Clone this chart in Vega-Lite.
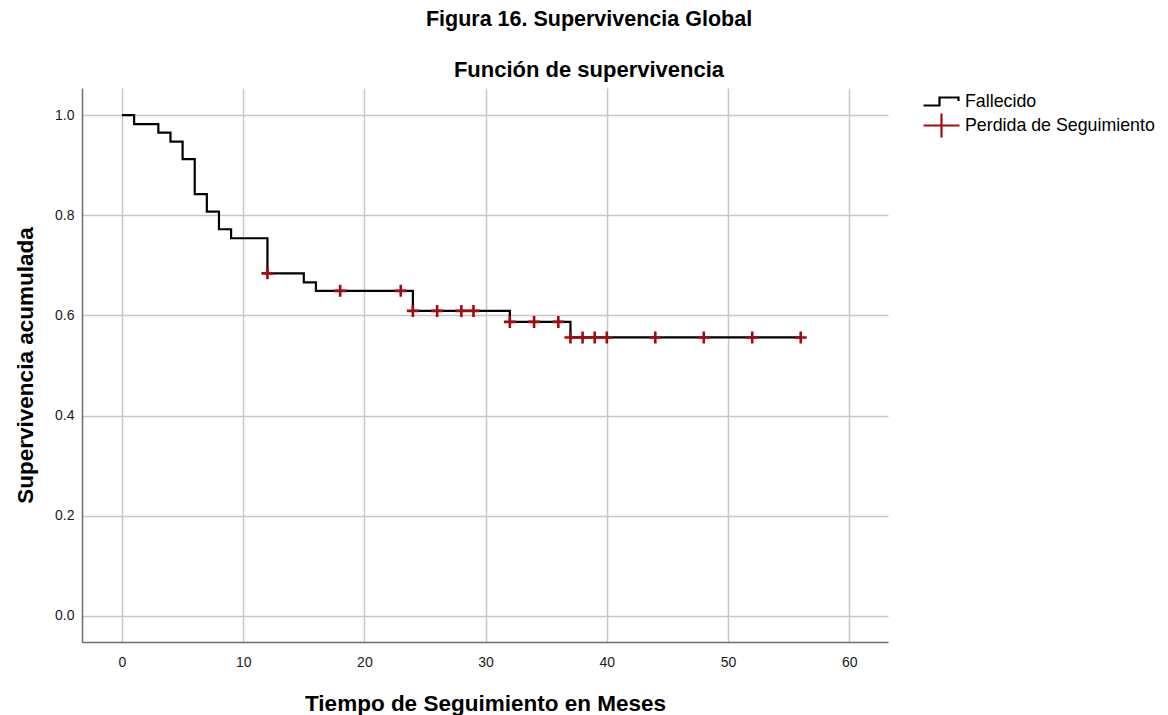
{
  "$schema": "https://vega.github.io/schema/vega-lite/v6.json",
  "width": 806,
  "height": 554,
  "autosize": {"type": "none"},
  "padding": {"left": 82, "top": 88, "right": 280, "bottom": 73},
  "background": "white",
  "config": {
    "font": "Liberation Sans",
    "view": {"stroke": null},
    "axis": {
      "grid": true,
      "gridColor": "#c8c8c8",
      "gridWidth": 1.5,
      "domainColor": "#6e6e6e",
      "domainWidth": 1.5,
      "ticks": false,
      "labelFont": "Liberation Sans",
      "labelFontSize": 14,
      "labelColor": "#1a1a1a",
      "titleFont": "Liberation Sans",
      "titleFontSize": 22.5,
      "titleFontWeight": "bold",
      "titleColor": "#000000"
    }
  },
  "title": {
    "text": "Figura 16. Supervivencia Global",
    "subtitle": "Función de supervivencia",
    "anchor": "middle",
    "dx": 104,
    "offset": 7,
    "fontSize": 21.5,
    "fontWeight": "bold",
    "color": "#000000",
    "subtitleFontSize": 22,
    "subtitleFontWeight": "bold",
    "subtitleColor": "#000000",
    "subtitlePadding": 30
  },
  "datasets": {
    "curva": [
      {"t": 0, "s": 1.0},
      {"t": 1, "s": 0.982},
      {"t": 3, "s": 0.965},
      {"t": 4, "s": 0.947},
      {"t": 5, "s": 0.912},
      {"t": 6, "s": 0.842},
      {"t": 7, "s": 0.807},
      {"t": 8, "s": 0.772},
      {"t": 9, "s": 0.754},
      {"t": 12, "s": 0.684},
      {"t": 15, "s": 0.666},
      {"t": 16, "s": 0.649},
      {"t": 24, "s": 0.609},
      {"t": 32, "s": 0.587},
      {"t": 37, "s": 0.556},
      {"t": 56, "s": 0.556}
    ],
    "censura": [
      {"t": 12, "s": 0.684},
      {"t": 18, "s": 0.649},
      {"t": 23, "s": 0.649},
      {"t": 24, "s": 0.609},
      {"t": 26, "s": 0.609},
      {"t": 28, "s": 0.609},
      {"t": 29, "s": 0.609},
      {"t": 32, "s": 0.587},
      {"t": 34, "s": 0.587},
      {"t": 36, "s": 0.587},
      {"t": 37, "s": 0.556},
      {"t": 38, "s": 0.556},
      {"t": 39, "s": 0.556},
      {"t": 40, "s": 0.556},
      {"t": 44, "s": 0.556},
      {"t": 48, "s": 0.556},
      {"t": 52, "s": 0.556},
      {"t": 56, "s": 0.556}
    ]
  },
  "encoding": {
    "x": {
      "field": "t",
      "type": "quantitative",
      "title": "Tiempo de Seguimiento en Meses",
      "scale": {"domain": [-3.3, 63.2], "nice": false, "zero": false},
      "axis": {"values": [0, 10, 20, 30, 40, 50, 60], "labelPadding": 13, "titlePadding": 23}
    },
    "y": {
      "field": "s",
      "type": "quantitative",
      "title": "Supervivencia acumulada",
      "scale": {"domain": [-0.052, 1.054], "nice": false, "zero": false},
      "axis": {"values": [0, 0.2, 0.4, 0.6, 0.8, 1.0], "format": ".1f", "labelPadding": 8, "titlePadding": 17}
    }
  },
  "layer": [
    {
      "data": {"name": "curva"},
      "mark": {"type": "line", "interpolate": "step-after", "strokeWidth": 2.2},
      "encoding": {
        "color": {
          "datum": "Fallecido",
          "type": "nominal",
          "scale": {"domain": ["Fallecido", "Perdida de Seguimiento"], "range": ["#000000", "#A00C12"]},
          "legend": {
            "title": null,
            "orient": "none",
            "legendX": 848,
            "legendY": 2,
            "symbolSize": 400,
            "symbolStrokeWidth": 2.2,
            "symbolType": "M-1.8,0H1.8M0,-1V1",
            "labelFont": "Liberation Sans",
            "labelFontSize": 17.8,
            "labelColor": "#000000",
            "labelLimit": 400,
            "labelOffset": 12,
            "rowPadding": -2,
            "encode": {
              "symbols": {
                "update": {
                  "shape": {"signal": "datum.value === 'Fallecido' ? 'M-1.8,0.4H-0.2V-0.4H1.7V-0.05' : 'M-1.8,0H1.8M0,-1.2V1.2'"},
                  "fill": {"value": "transparent"},
                  "strokeWidth": {"value": 2.2}
                }
              }
            }
          }
        }
      }
    },
    {
      "data": {"name": "censura"},
      "mark": {"type": "point", "shape": "M-1,0H1M0,-1V1", "size": 144, "filled": false, "strokeWidth": 2.6, "opacity": 1},
      "encoding": {
        "color": {"datum": "Perdida de Seguimiento", "type": "nominal"}
      }
    }
  ]
}
